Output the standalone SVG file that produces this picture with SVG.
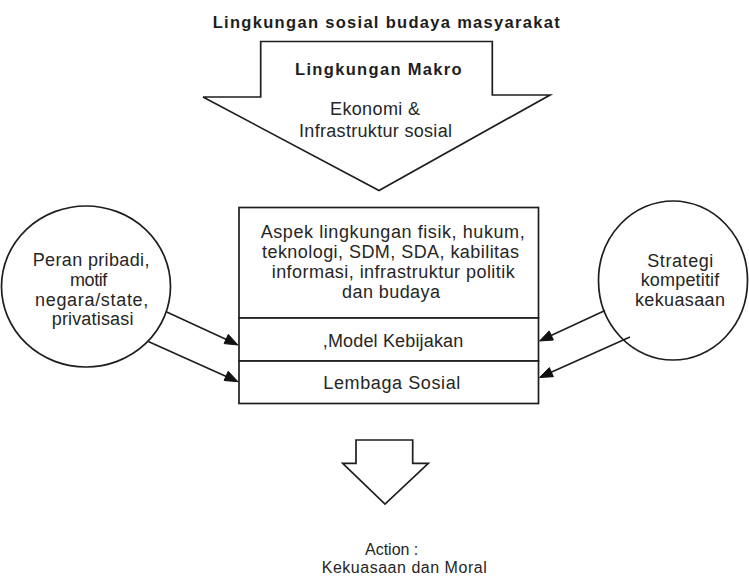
<svg xmlns="http://www.w3.org/2000/svg" width="749" height="577" viewBox="0 0 749 577">
<style>
.shape{fill:#fff;stroke:#1e1e1e;stroke-width:1.7}
.line{fill:none;stroke:#1e1e1e;stroke-width:1.6}
.head{fill:#111;stroke:#111;stroke-width:1;stroke-linejoin:miter}
.t{font-family:"Liberation Sans",Arial,sans-serif;font-size:18px;fill:#262626}
.s{font-family:"Liberation Sans",Arial,sans-serif;font-size:16px;fill:#262626}
.b{font-family:"Liberation Sans",Arial,sans-serif;font-size:16.5px;font-weight:bold;fill:#1e1e1e}
</style>
<rect width="749" height="577" fill="#fff"/>
<g id="title">
<text class="b" x="212.7" y="28" textLength="347" lengthAdjust="spacing">Lingkungan sosial budaya masyarakat</text>
</g>
<g id="makro">
<polygon class="shape" points="260.7,41.5 492.3,41.5 492.3,95 550,95 379,190.5 203,97 260.7,97"/>
<text class="b" x="295" y="75" textLength="166.7" lengthAdjust="spacing">Lingkungan Makro</text>
<text class="t" x="330" y="115" textLength="90" lengthAdjust="spacing">Ekonomi &amp;</text>
<text class="t" x="299" y="136.5" textLength="153" lengthAdjust="spacing">Infrastruktur sosial</text>
</g>
<g id="aspek">
<rect class="shape" x="239" y="207.5" width="299.5" height="110.5"/>
<text class="t" x="260.7" y="238" textLength="264" lengthAdjust="spacing">Aspek lingkungan fisik, hukum,</text>
<text class="t" x="262" y="258" textLength="257" lengthAdjust="spacing">teknologi, SDM, SDA, kabilitas</text>
<text class="t" x="271.7" y="278" textLength="243" lengthAdjust="spacing">informasi, infrastruktur politik</text>
<text class="t" x="342" y="297.5" textLength="98" lengthAdjust="spacing">dan budaya</text>
</g>
<g id="model">
<rect class="shape" x="239" y="318" width="299.5" height="43"/>
<text class="t" x="322.7" y="347" textLength="140.6" lengthAdjust="spacing">,Model Kebijakan</text>
</g>
<g id="lembaga">
<rect class="shape" x="239" y="361" width="299.5" height="42.5"/>
<text class="t" x="323.3" y="389" textLength="137" lengthAdjust="spacing">Lembaga Sosial</text>
</g>
<g id="peran">
<ellipse class="shape" cx="86" cy="286.5" rx="84.5" ry="80.5"/>
<text class="t" x="32.7" y="266" textLength="116.7" lengthAdjust="spacing">Peran pribadi,</text>
<text class="t" x="70" y="286" textLength="37.3" lengthAdjust="spacing">motif</text>
<text class="t" x="35" y="305.5" textLength="113.3" lengthAdjust="spacing">negara/state,</text>
<text class="t" x="51.7" y="324.5" textLength="81.7" lengthAdjust="spacing">privatisasi</text>
</g>
<g id="strategi">
<ellipse class="shape" cx="673" cy="280.5" rx="74.5" ry="79.5"/>
<text class="t" x="647.3" y="266.5" textLength="66" lengthAdjust="spacing">Strategi</text>
<text class="t" x="640.7" y="286" textLength="78.6" lengthAdjust="spacing">kompetitif</text>
<text class="t" x="635" y="305.5" textLength="90" lengthAdjust="spacing">kekuasaan</text>
</g>
<g id="action-arrow">
<polygon class="shape" points="356,440 412.7,440 412.7,463.3 428.3,463.3 385,504 342.7,463.3 356,463.3"/>
</g>
<g id="action">
<text class="s" x="365" y="554.5" textLength="53.3" lengthAdjust="spacing">Action :</text>
<text class="s" x="321.7" y="573" textLength="165" lengthAdjust="spacing">Kekuasaan dan Moral</text>
</g>
<g id="connectors">
<line class="line" x1="166.7" y1="312" x2="228" y2="340.2"/>
<polygon class="head" points="238,345 224.1,343.6 228.3,334.4"/>
<line class="line" x1="148.3" y1="341.6" x2="228" y2="377.2"/>
<polygon class="head" points="238,381.7 224.1,380.5 228.2,371.3"/>
<line class="line" x1="605" y1="310.5" x2="550" y2="336.1"/>
<polygon class="head" points="539.5,341 549.2,330.9 553.4,340.0"/>
<line class="line" x1="630" y1="337" x2="550" y2="372.8"/>
<polygon class="head" points="539.5,377.5 549.3,367.6 553.4,376.7"/>
</g>
</svg>
